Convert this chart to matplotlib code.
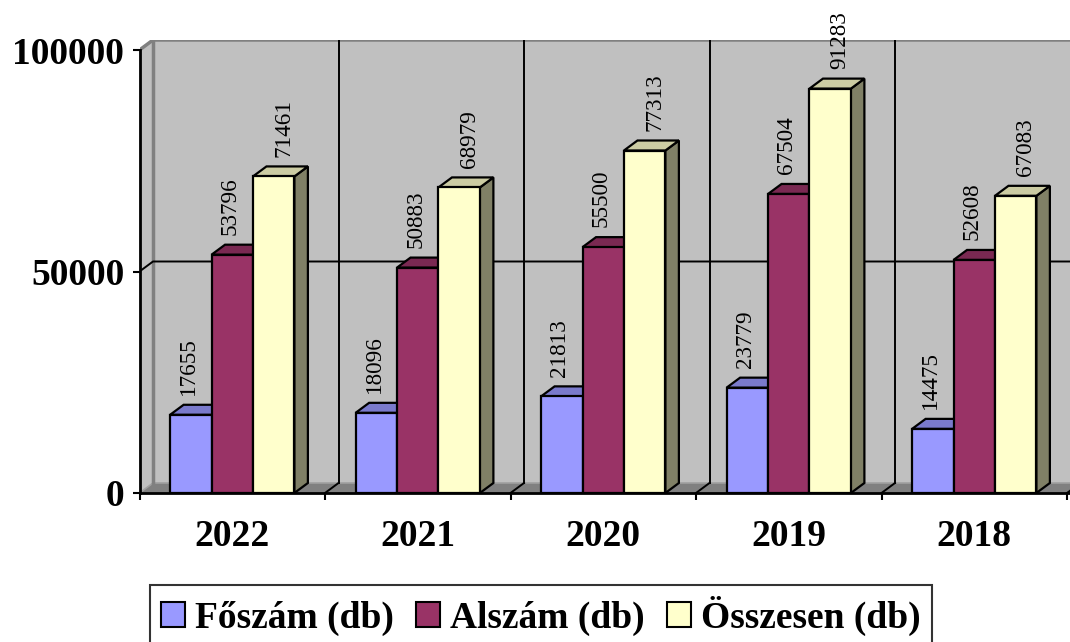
import matplotlib
matplotlib.use("Agg")
import matplotlib.pyplot as plt
from matplotlib.patches import Polygon, Patch
import numpy as np

# ---- data ----
years = ["2022", "2021", "2020", "2019", "2018"]
series_names = ["Főszám (db)", "Alszám (db)", "Összesen (db)"]
foszam = [17655, 18096, 21813, 23779, 14475]
alszam = [53796, 50883, 55500, 67504, 52608]
osszesen = [71461, 68979, 77313, 91283, 67083]
y_ticks = [0, 50000, 100000]

# ---- style ----
colors = ["#9999FF", "#993366", "#FFFFCC"]
FONT = "Liberation Serif"
plt.rcParams["font.family"] = [FONT, "DejaVu Serif"]

W, H = 1070, 642
fig = plt.figure(figsize=(W / 100, H / 100), dpi=100)

# pixel geometry of the front plane
px_left, px_right, px_bottom, px_top = 139.5, 1070, 493, 40
px_cat = 185.5
px_100k = 443.0
ax = fig.add_axes([px_left / W, (H - px_bottom) / H,
                   (px_right - px_left) / W, (px_bottom - px_top) / H])
xmax = (px_right - px_left) / px_cat
ymax = (px_bottom - px_top) / px_100k * 100000
ax.set_xlim(0, xmax)
ax.set_ylim(0, ymax)

# depth offset in data units
dx = 13.5 / px_cat
dy = 10.0 / px_100k * 100000
top_val = 100000
ext = xmax + 1

wall = "#C0C0C0"
edge_gray = "#808080"

# side wall
ax.add_patch(Polygon([(0, 0), (dx, dy), (dx, top_val + dy), (0, top_val)],
                     closed=True, facecolor=wall, edgecolor="none", zorder=0, clip_on=False))
# back wall
ax.add_patch(Polygon([(dx, dy), (ext, dy), (ext, top_val + dy), (dx, top_val + dy)],
                     closed=True, facecolor=wall, edgecolor="none", zorder=0, clip_on=True))
# floor
ax.add_patch(Polygon([(0, 0), (ext, 0), (ext + dx, dy), (dx, dy)],
                     closed=True, facecolor=edge_gray, edgecolor="none", zorder=0.5))
# wall outline (gray)
ax.plot([0, dx, ext], [top_val, top_val + dy, top_val + dy], color=edge_gray, lw=2.5,
        zorder=1, clip_on=True, solid_capstyle="butt")
ax.plot([dx, dx], [dy, top_val + dy], color=edge_gray, lw=2.5, zorder=1)
ax.plot([0, dx, ext], [0, dy, dy], color="#A0A0A0", lw=1.2, zorder=0.8)

# horizontal gridline 50000
for v in y_ticks[1:-1]:
    ax.plot([0, dx, ext], [v, v + dy, v + dy], color="black", lw=1.4, zorder=1)
# vertical gridlines on back wall + floor diagonals
for k in range(1, len(years) + 1):
    ax.plot([k + dx, k + dx], [dy, top_val + dy], color="black", lw=1.4, zorder=1)
    ax.plot([k, k + dx], [0, dy], color="black", lw=1.4, zorder=1)


def shade(hexcol, f):
    c = np.array(matplotlib.colors.to_rgb(hexcol)) * f
    return tuple(c)


# ---- bars ----
all_series = [foszam, alszam, osszesen]
n = len(all_series)
group = 0.67
bw = group / n
x0 = 0.5 - group / 2
xs = np.arange(len(years))
label_dx_px = [-2, -2, 10]
label_dy_pt = 7

for j, vals in enumerate(all_series):
    lefts = xs + x0 + j * bw
    bars = ax.bar(lefts, vals, width=bw, align="edge", color=colors[j],
                  edgecolor="black", linewidth=1.6, label=series_names[j])
    for i, (b, v) in enumerate(zip(bars, vals)):
        base = 10 + (i * n + j) * 3
        b.set_zorder(base + 1)
        xl, xr = b.get_x(), b.get_x() + b.get_width()
        top = Polygon([(xl, v), (xr, v), (xr + dx, v + dy), (xl + dx, v + dy)], closed=True,
                      facecolor=shade(colors[j], 0.8), edgecolor="black", linewidth=1.6,
                      zorder=base, joinstyle="miter")
        side = Polygon([(xr, 0), (xr + dx, dy), (xr + dx, v + dy), (xr, v)], closed=True,
                       facecolor=shade(colors[j], 0.5), edgecolor="black", linewidth=1.6,
                       zorder=base, joinstyle="miter")
        ax.add_patch(side)
        ax.add_patch(top)
        ax.annotate(f"{v}", xy=((xl + xr) / 2, v + dy),
                    xytext=(label_dx_px[j] * 0.72, label_dy_pt), textcoords="offset points",
                    rotation=90, ha="center", va="bottom", fontsize=16.7,
                    family=FONT, zorder=200, annotation_clip=False)

# ---- axes ----
for s in ["top", "right"]:
    ax.spines[s].set_visible(False)
ax.spines["left"].set_bounds(0, top_val)
ax.spines["left"].set_linewidth(2)
ax.spines["bottom"].set_linewidth(2)
ax.spines["left"].set_zorder(300)
ax.spines["bottom"].set_zorder(300)

ax.set_yticks(y_ticks)
ax.set_yticklabels([str(t) for t in y_ticks])
ax.tick_params(axis="y", direction="out", length=5, width=1.5, pad=6,
               labelsize=27)
for t in ax.get_yticklabels():
    t.set_fontweight("bold")

ax.set_xticks(np.arange(0, len(years) + 1))
ax.set_xticklabels([])
ax.set_xticks(xs + 0.5, minor=True)
ax.set_xticklabels(years, minor=True)
ax.tick_params(axis="x", which="major", direction="out", length=5, width=1.5)
ax.tick_params(axis="x", which="minor", length=0, pad=19, labelsize=27)
for t in ax.get_xticklabels(minor=True):
    t.set_fontweight("bold")

# ---- legend ----
handles = [Patch(facecolor=c, edgecolor="black", linewidth=1.5) for c in colors]
leg = fig.legend(handles, series_names, loc="center", bbox_to_anchor=(541 / W, 1 - 616 / H),
                 ncol=3, frameon=True, fancybox=False, edgecolor="black",
                 prop={"family": FONT, "weight": "bold", "size": 27},
                 handlelength=0.64, handleheight=0.64, handletextpad=0.27,
                 columnspacing=0.59, borderpad=0.3, borderaxespad=0)
leg.get_frame().set_linewidth(1.5)

fig.savefig("out.png", dpi=100)
